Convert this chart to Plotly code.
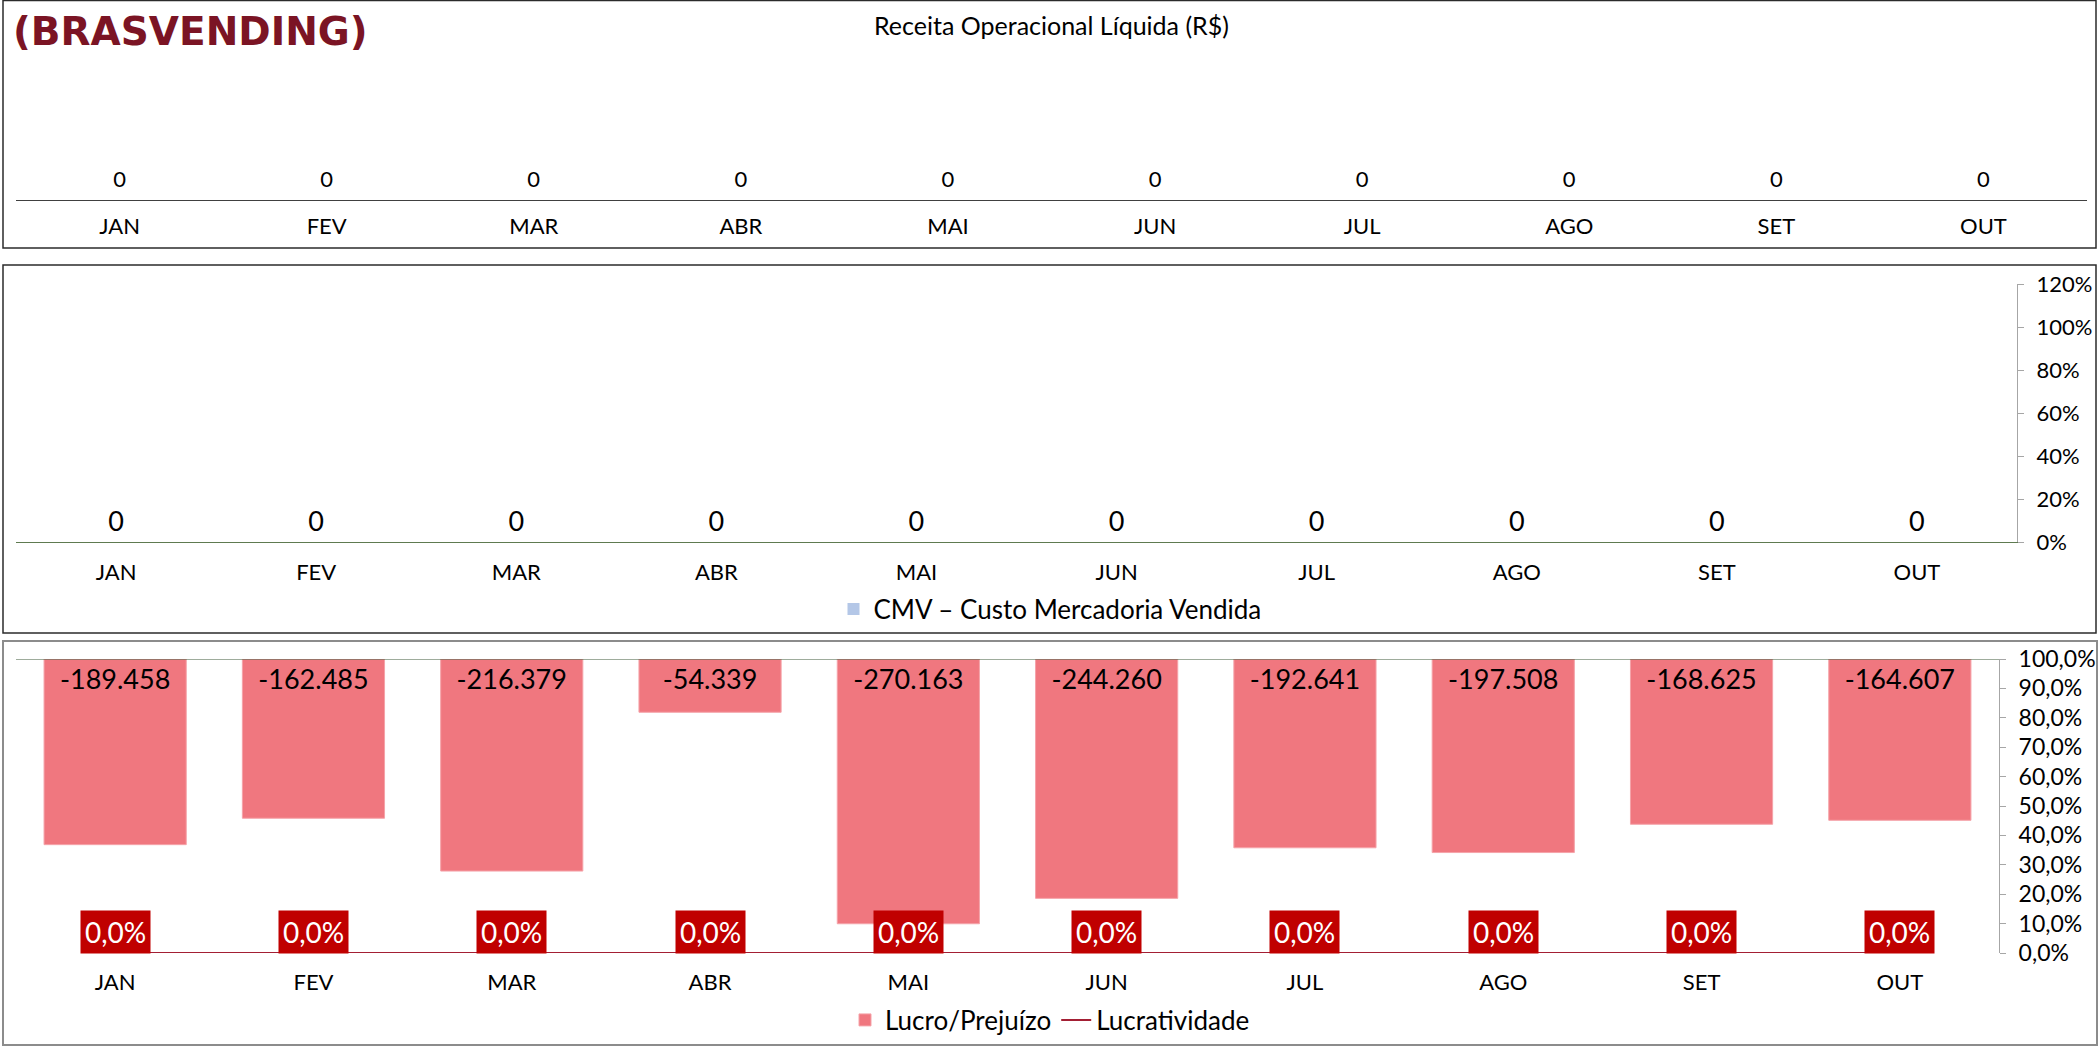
import plotly.graph_objects as go

W, H = 2100, 1046

months = ["JAN", "FEV", "MAR", "ABR", "MAI", "JUN", "JUL", "AGO", "SET", "OUT"]
receita = [0, 0, 0, 0, 0, 0, 0, 0, 0, 0]
cmv = [0, 0, 0, 0, 0, 0, 0, 0, 0, 0]
lucro = [-189458, -162485, -216379, -54339, -270163, -244260, -192641, -197508, -168625, -164607]
lucratividade = [0.0, 0.0, 0.0, 0.0, 0.0, 0.0, 0.0, 0.0, 0.0, 0.0]

FONT = "Lato"


def px(x):
    return x / W


def py(y):
    return 1 - y / H


def br_num(v):
    return f"{v:,.0f}".replace(",", ".")


fig = go.Figure()

# Panel 1: Receita
fig.add_trace(go.Scatter(
    x=months, y=receita, mode="text", text=[br_num(v) for v in receita],
    textposition="top center", textfont=dict(size=22, color="#000000", family=FONT),
    xaxis="x", yaxis="y", showlegend=False, hoverinfo="skip"))

# Panel 2: CMV
fig.add_trace(go.Bar(
    x=months, y=cmv, name="CMV – Custo Mercadoria Vendida", marker_color="#B4C7E7",
    xaxis="x2", yaxis="y3", legend="legend", width=0.7, hoverinfo="skip"))
fig.add_trace(go.Scatter(
    x=months, y=cmv, mode="text", text=[br_num(v) for v in cmv],
    textposition="top center", textfont=dict(size=27, color="#000000", family=FONT),
    xaxis="x2", yaxis="y2", showlegend=False, hoverinfo="skip"))

# Panel 3: Lucro / Lucratividade
fig.add_trace(go.Bar(
    x=months, y=lucro, name="Lucro/Prejuízo",
    marker=dict(color="#F0777F", line=dict(color="#F5A3A9", width=1)),
    texttemplate="%{y:,.0f}", textposition="inside", insidetextanchor="start",
    textangle=0, constraintext="none",
    textfont=dict(size=27, color="#000000", family=FONT),
    xaxis="x3", yaxis="y4", legend="legend2", width=0.717))
fig.add_trace(go.Scatter(
    x=months, y=lucratividade, name="Lucratividade", mode="lines",
    line=dict(color="#A31F34", width=2),
    xaxis="x3", yaxis="y5", legend="legend2"))

for m, v in zip(months, lucratividade):
    fig.add_annotation(
        x=m, y=v, xref="x3", yref="y5", text=f"{v*100:.1f}%".replace(".", ","),
        showarrow=False, bgcolor="#C00000", borderpad=4, yshift=21,
        font=dict(size=28, color="#FFFFFF", family=FONT))

axis_font = dict(size=22, color="#000000", family=FONT)

fig.update_layout(
    template="none",
    width=W, height=H, margin=dict(l=0, r=0, t=0, b=0, autoexpand=False),
    paper_bgcolor="#FFFFFF", plot_bgcolor="rgba(0,0,0,0)",
    separators=",.", font=dict(family=FONT, color="#000000"),
    barmode="group",
    xaxis=dict(domain=[px(16), px(2087)], anchor="y", showline=True, linecolor="#404040",
               linewidth=1, ticks="", tickfont=axis_font, showgrid=False, zeroline=False,
               ticklabelstandoff=7, automargin=False),
    yaxis=dict(domain=[py(200), py(60)], anchor="x", range=[-0.06, 1], visible=False,
               automargin=False),
    xaxis2=dict(domain=[px(16), px(2017)], anchor="y2", showline=True, linecolor="#5E7A50",
                linewidth=1, ticks="", tickfont=axis_font, showgrid=False, zeroline=False,
                ticklabelstandoff=11, automargin=False),
    yaxis2=dict(domain=[py(542), py(284)], anchor="x2", range=[-0.018, 1], visible=False,
                automargin=False),
    yaxis3=dict(domain=[py(542), py(284)], anchor="x2", overlaying="y2", side="right",
                range=[0, 1.2], dtick=0.2, tickformat=".0%", showgrid=False, zeroline=False,
                showline=True, linecolor="#A6A6A6", ticks="outside", ticklen=6,
                tickcolor="#A6A6A6", tickfont=dict(size=22, color="#000000", family=FONT),
                ticklabelstandoff=8, automargin=False),
    xaxis3=dict(domain=[px(16), px(1999)], anchor="y4", showline=False, ticks="",
                tickfont=axis_font, showgrid=False, zeroline=False, ticklabelstandoff=14,
                automargin=False),
    yaxis4=dict(domain=[py(953), py(659)], anchor="x3", range=[-300000, 0], visible=False,
                automargin=False),
    yaxis5=dict(domain=[py(953), py(659)], anchor="x3", overlaying="y4", side="right",
                range=[0, 1], dtick=0.1, tickformat=".1%", showgrid=False, zeroline=False,
                showline=True, linecolor="#A6A6A6", ticks="outside", ticklen=6,
                tickcolor="#A6A6A6", tickfont=dict(size=23, color="#000000", family=FONT),
                ticklabelstandoff=8, automargin=False),
    legend=dict(x=0.5, xanchor="center", y=py(609), yanchor="middle", orientation="h",
                font=dict(size=26, color="#000000", family=FONT), bgcolor="rgba(0,0,0,0)",
                itemwidth=30),
    legend2=dict(x=0.5, xanchor="center", y=py(1020), yanchor="middle", orientation="h",
                 font=dict(size=26, color="#000000", family=FONT), bgcolor="rgba(0,0,0,0)",
                 itemwidth=30),
    showlegend=True,
)

# Titles
fig.add_annotation(x=px(11), y=py(32), xref="paper", yref="paper", xanchor="left",
                   yanchor="middle", text="<b>(BRASVENDING)</b>", showarrow=False,
                   font=dict(size=39, color="#7B1424", family="DejaVu Sans"))
fig.add_annotation(x=px(1051), y=py(25), xref="paper", yref="paper", xanchor="center",
                   yanchor="middle", text="Receita Operacional Líquida (R$)", showarrow=False,
                   font=dict(size=25, color="#000000", family=FONT))

# Panel frames
fig.add_shape(type="rect", xref="paper", yref="paper", x0=px(3), x1=px(2096), y0=py(248),
              y1=py(0.5), line=dict(color="#2B2B2B", width=1.5))
fig.add_shape(type="rect", xref="paper", yref="paper", x0=px(3), x1=px(2096), y0=py(633),
              y1=py(265), line=dict(color="#2B2B2B", width=1.5))
fig.add_shape(type="rect", xref="paper", yref="paper", x0=px(3), x1=px(2097), y0=py(1045),
              y1=py(641), line=dict(color="#8C8C8C", width=2))
# zero line of the profit axis (top of panel 3)
fig.add_shape(type="line", xref="x3 domain", yref="y4", x0=0, x1=1, y0=0, y1=0,
              line=dict(color="#3F5A3A", width=1.2))

fig.write_html("out.html", config={"displayModeBar": False},
               post_script="document.body.style.margin='0';document.body.style.overflow='hidden';")
